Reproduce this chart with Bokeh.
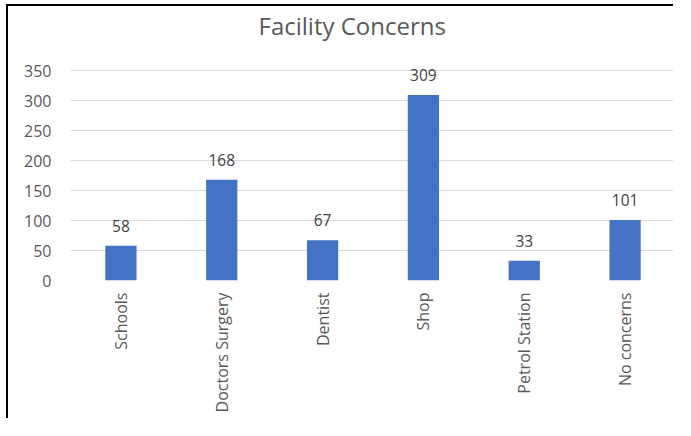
import math
from bokeh.plotting import figure
from bokeh.models import FactorRange, Range1d, ColumnDataSource, FixedTicker, Title
from bokeh.core.properties import value
from bokeh.embed import file_html
from bokeh.resources import INLINE

categories = ["Schools", "Doctors Surgery", "Dentist", "Shop", "Petrol Station", "No concerns"]
counts = [58, 168, 67, 309, 33, 101]
y_ticks = [0, 50, 100, 150, 200, 250, 300, 350]
title_text = "Facility Concerns"

FONT = "Open Sans"
TEXT_GRAY = "#595959"
LABEL_GRAY = "#404040"
BAR_BLUE = "#4472C4"

src = ColumnDataSource(data=dict(cat=categories, val=counts, lbl=[str(v) for v in counts]))

p = figure(
    width=667, height=414,
    x_range=FactorRange(factors=categories, range_padding=0),
    y_range=Range1d(0, 355),
    output_backend="svg", toolbar_location=None,
    min_border_left=62, min_border_right=0, min_border_top=60, min_border_bottom=140,
)
p.styles = {
    "margin-top": "4px", "margin-left": "6px",
    "border-top": "2px solid #000000", "border-left": "2px solid #000000",
}

# spacer (closest to the frame), then the real title further out
p.add_layout(Title(text=" ", standoff=23, text_font_size="1px"), "above")
p.add_layout(Title(text=title_text, align="left", offset=188, standoff=0,
                   text_font=FONT, text_font_size="24px", text_font_style="normal",
                   text_color=TEXT_GRAY), "above")

p.outline_line_color = None
p.background_fill_color = "white"
p.border_fill_color = "white"

p.vbar(x="cat", top="val", width=0.31, source=src, fill_color=BAR_BLUE, line_color=None)

p.text(x="cat", y="val", text="lbl", source=src, text_align="center", text_baseline="bottom",
       y_offset=-14, text_font=value(FONT), text_font_size="15.5px", text_color=LABEL_GRAY)

p.xgrid.grid_line_color = None
p.ygrid.grid_line_color = "#d9d9d9"
p.ygrid.grid_line_width = 1
p.yaxis.ticker = FixedTicker(ticks=y_ticks)

for ax in (p.xaxis[0], p.yaxis[0]):
    ax.axis_line_color = None
    ax.major_tick_line_color = None
    ax.minor_tick_line_color = None
    ax.major_label_text_font = FONT
    ax.major_label_text_color = TEXT_GRAY

p.yaxis.major_label_text_font_size = "16px"
p.xaxis.major_label_text_font_size = "16px"
p.yaxis.major_label_standoff = 13
p.xaxis.major_label_standoff = 6
p.xaxis.major_label_orientation = math.pi / 2

open("out.html", "w").write(file_html(p, INLINE))
